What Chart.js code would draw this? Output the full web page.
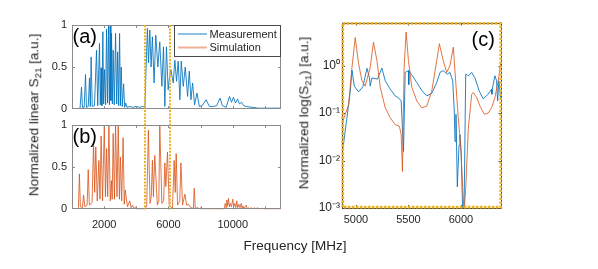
<!DOCTYPE html>
<html>
<head>
<meta charset="utf-8">
<script src="https://cdn.jsdelivr.net/npm/chart.js@4.4.1/dist/chart.umd.min.js"></script>
<style>
  body { margin: 0; background: #fff; }
  #wrap { position: relative; width: 598px; height: 269px; overflow: hidden; font-family: "Liberation Sans", Arial, sans-serif; color: #262626; }
  .layer { position: absolute; left: 0; top: 0; width: 598px; height: 269px; }
  .title { position: absolute; white-space: nowrap; font-size: 13.5px; line-height: 1; }
  .title sub { font-size: 0.72em; line-height: 0; vertical-align: -0.3em; }
  .rot { transform: translate(-50%, -50%) rotate(-90deg); }
  .hor { transform: translate(-50%, -50%); }
</style>
</head>
<body>
<div id="wrap">
  <div class="layer"><canvas id="chartA"></canvas></div>
  <div class="layer"><canvas id="chartB"></canvas></div>
  <div class="layer"><canvas id="chartC"></canvas></div>
  <div class="title rot" style="left:34px; top:115px;">Normalized linear S<sub>21</sub> [a.u.]</div>
  <div class="title rot" style="left:304px; top:113px;">Normalized log(S<sub>21</sub>) [a.u.]</div>
  <div class="title hor" style="left:295px; top:246px;">Frequency [MHz]</div>
</div>
<script>
// panel (a): measurement, linear
const measFreq = [500, 590, 650, 760, 840, 900, 1010, 1090, 1140, 1190, 1260, 1400, 1525, 1600, 1710, 1760, 1810, 1860, 1920, 1970,
	2025, 2090, 2150, 2210, 2275, 2325, 2375, 2420, 2460, 2510, 2560, 2630, 2710, 2780, 2840, 2900, 2960, 3010, 3060, 3130,
	3210, 3280, 3340, 3420, 3600, 3800, 4000, 4200, 4400, 4540, 4600, 4690, 4760, 4840, 4920, 5000, 5105, 5210, 5340, 5460,
	5590, 5690, 5775, 5875, 5980, 6050, 6150, 6295, 6400, 6500, 6605, 6710, 6795, 6920, 7045, 7190, 7295, 7400, 7500, 7625,
	7775, 7920, 8100, 8340, 8545, 8800, 9000, 9210, 9350, 9590, 9795, 9920, 10045, 10170, 10295, 10420, 10545, 10670, 10840, 11200,
	11600, 12000, 12500, 13000];
const measVal = [0.01, 0.26, 0.02, 0.02, 0.41, 0.02, 0.03, 0.37, 0.03, 0.62, 0.03, 0.04, 0.70, 0.04, 0.78, 0.05, 0.49, 0.04, 0.92, 0.06,
	0.47, 0.05, 0.95, 0.07, 1.0, 0.05, 1.0, 0.1, 0.9, 0.06, 0.7, 0.05, 0.9, 0.06, 0.68, 0.04, 0.9, 0.04, 0.5, 0.03,
	0.3, 0.02, 0.07, 0.02, 0.03, 0.02, 0.03, 0.02, 0.03, 0.02, 0.45, 0.96, 0.55, 0.94, 0.5, 0.86, 0.31, 0.88, 0.5, 0.8,
	0.27, 0.74, 0.03, 0.74, 0.23, 0.35, 0.47, 0.31, 0.58, 0.33, 0.57, 0.11, 0.57, 0.27, 0.5, 0.15, 0.45, 0.11, 0.31, 0.05,
	0.19, 0.03, 0.04, 0.11, 0.03, 0.03, 0.04, 0.13, 0.04, 0.02, 0.15, 0.08, 0.14, 0.07, 0.12, 0.06, 0.08, 0.04, 0.03, 0.02,
	0.01, 0.01, 0.01, 0.01];

// panel (b): simulation, linear
const simFreq = [300, 400, 460, 520, 650, 720, 800, 940, 1010, 1080, 1250, 1340, 1410, 1480, 1570, 1670, 1740, 1810, 1900, 2010,
	2080, 2150, 2220, 2295, 2380, 2450, 2500, 2560, 2640, 2710, 2800, 2875, 2950, 3010, 3090, 3180, 3250, 3310, 3450, 3590,
	3680, 3760, 3860, 3960, 4100, 4550, 4650, 4750, 4855, 4930, 5000, 5065, 5150, 5310, 5400, 5460, 5590, 5700, 5775, 5840,
	5940, 6045, 6250, 6355, 6420, 6480, 6565, 6700, 6775, 6875, 7025, 7125, 7250, 7400, 7550, 7605, 7670, 7840, 7900, 8025,
	8100, 9480, 9525, 9580, 9625, 9680, 9730, 9790, 9840, 9920, 10000, 10060, 10125, 10190, 10250, 10310, 10375, 10450, 10525, 10580,
	10625, 10700, 10840, 10900, 10980, 11050, 11150, 11250, 11355, 11450, 11560, 11650, 11875, 12000, 13000];
const simVal = [0, 0.02, 0.42, 0.03, 0.02, 0.17, 0.03, 0.05, 0.47, 0.05, 0.08, 0.8, 0.2, 0.74, 0.1, 0.58, 0.12, 0.87, 0.1, 1.0,
	0.15, 0.72, 0.15, 1.0, 0.1, 0.34, 0.12, 0.9, 0.12, 1.0, 0.15, 1.0, 0.12, 0.62, 0.1, 0.85, 0.06, 0.23, 0.03, 0.1,
	0.02, 0.05, 0.01, 0.03, 0, 0, 0.05, 0.94, 0.07, 0.15, 0.58, 0.15, 0.64, 0.05, 0.1, 1.0, 0.07, 0.1, 0.55, 0.27,
	0.68, 0.05, 0.01, 0.58, 0.2, 0.66, 0.05, 0.1, 0.55, 0.05, 0.18, 0.05, 0.06, 0.02, 0.01, 0.25, 0.01, 0.02, 0, 0.02,
	0, 0, 0.07, 0.02, 0.11, 0.04, 0.13, 0.03, 0.07, 0.03, 0.12, 0.03, 0.07, 0.02, 0.1, 0.02, 0.06, 0.02, 0.07, 0.01,
	0.04, 0.01, 0.05, 0, 0.02, 0, 0.02, 0, 0.02, 0, 0.02, 0, 0.01, 0, 0];

// panel (c): zoom, log scale
const zMeasFreq = [4876, 4914, 4946, 4962, 4984, 5025, 5066, 5105, 5129, 5136, 5152, 5205, 5247, 5279, 5326, 5374, 5405, 5431, 5453, 5469,
	5500, 5503, 5506, 5532, 5580, 5627, 5675, 5722, 5770, 5801, 5833, 5871, 5896, 5922, 5937, 5944, 5953, 5966, 5982, 5991,
	6004, 6017, 6030, 6046, 6071, 6103, 6134, 6175, 6213, 6260, 6293, 6296, 6299, 6324, 6340, 6350, 6362, 6378];
const zMeasVal = [0.018, 0.079, 0.29, 0.81, 0.37, 0.28, 0.36, 0.88, 0.55, 0.37, 0.55, 0.52, 0.89, 0.48, 0.32, 0.23, 0.21, 0.18, 0.0155, 0.72,
	0.78, 0.4, 0.78, 0.64, 0.44, 0.30, 0.23, 0.26, 0.44, 0.72, 0.78, 0.66, 0.72, 0.48, 0.11, 0.025, 0.094, 0.0028, 0.021, 0.035,
	0.013, 0.0008, 0.0008, 0.66, 0.61, 0.72, 0.55, 0.29, 0.2, 0.25, 0.32, 0.25, 0.32, 0.61, 0.48, 0.18, 0.48, 0.21];
const zSimFreq = [4876, 4930, 4962, 4993, 5025, 5057, 5088, 5136, 5167, 5200, 5231, 5279, 5326, 5374, 5414, 5431, 5443, 5459, 5478, 5500,
	5532, 5580, 5627, 5675, 5722, 5770, 5795, 5827, 5865, 5896, 5928, 5950, 5975, 5998, 6017, 6030, 6046, 6071, 6103, 6119,
	6151, 6182, 6224, 6260, 6293, 6324, 6356, 6378];
const zSimVal = [0.068, 0.15, 0.92, 3.9, 1.1, 0.48, 0.37, 0.92, 3.1, 1.28, 0.35, 0.13, 0.08, 0.057, 0.053, 0.035, 0.0059, 0.92, 5.1, 1.28,
	0.35, 0.18, 0.13, 0.14, 0.29, 1.28, 2.9, 1.39, 0.72, 1.0, 2.45, 0.48, 0.079, 0.021, 0.0026, 0.0008, 0.0026, 0.048, 0.25, 0.27,
	0.21, 0.14, 0.094, 0.1, 0.13, 0.21, 0.48, 1.1];

// axes
const linTicks = [2000, 4000, 6000, 8000, 10000, 12000];
const linLabels = [2000, 6000, 10000];
const linYTicks = [0, 0.5, 1];
const zoomBand = [4550, 6100];
const zXTicks = [5000, 5500, 6000];
const zYTicks = [0.001, 0.01, 0.1, 1];
const zYLabels = ['10⁻³', '10⁻²', '10⁻¹', '10⁰'];

const BLUE = 'rgba(0,114,189,0.85)';
const ORANGE = 'rgba(217,83,25,0.8)';
const GOLD = '#EDB120';
const TXT = '#262626';
const FONT = '"Liberation Sans", Arial, sans-serif';

function pts(xs, ys) {
	return xs.map((x, i) => ({x: x, y: ys[i]}));
}

function lineSet(label, xs, ys, color) {
	return {
		label: label,
		data: pts(xs, ys),
		borderColor: color,
		borderWidth: 1,
		pointRadius: 0,
		tension: 0,
		fill: false
	};
}

// frame, inside ticks, panel letter
function decoPlugin(cfg) {
	return {
		id: 'deco',
		afterDatasetsDraw(chart) {
			const ctx = chart.ctx;
			const a = chart.chartArea;
			const sx = chart.scales.x, sy = chart.scales.y;
			ctx.save();
			ctx.strokeStyle = cfg.frame;
			ctx.lineWidth = 1;
			ctx.beginPath();
			for (const v of cfg.xt) {
				const px = Math.round(sx.getPixelForValue(v)) + 0.5;
				ctx.moveTo(px, a.bottom); ctx.lineTo(px, a.bottom - 3);
				ctx.moveTo(px, a.top); ctx.lineTo(px, a.top + 3);
			}
			for (const v of cfg.yt) {
				const py = Math.round(sy.getPixelForValue(v)) + 0.5;
				ctx.moveTo(a.left, py); ctx.lineTo(a.left + 3, py);
				ctx.moveTo(a.right, py); ctx.lineTo(a.right - 3, py);
			}
			ctx.stroke();
			ctx.strokeRect(Math.round(a.left) + 0.5, Math.round(a.top) + 0.5, Math.round(a.width) - 1, Math.round(a.height) - 1);
			if (cfg.dotted) {
				ctx.strokeStyle = GOLD;
				ctx.lineWidth = 2.7;
				ctx.setLineDash([2.7, 1.3]);
				ctx.strokeRect(a.left + 0.8, a.top + 0.8, a.width - 1.6, a.height - 1.6);
				ctx.setLineDash([]);
			}
			if (cfg.band) {
				ctx.strokeStyle = GOLD;
				ctx.lineWidth = 2;
				ctx.setLineDash([2, 1.4]);
				ctx.beginPath();
				for (const v of cfg.band) {
					const px = Math.round(sx.getPixelForValue(v));
					ctx.moveTo(px, 25); ctx.lineTo(px, a.bottom);
				}
				ctx.stroke();
				ctx.setLineDash([]);
			}
			ctx.fillStyle = '#000';
			ctx.font = '20px ' + FONT;
			ctx.textBaseline = 'alphabetic';
			ctx.textAlign = 'left';
			ctx.fillText(cfg.letter, cfg.lx, cfg.ly);
			if (cfg.legend) {
				ctx.fillStyle = '#fff';
				ctx.fillRect(174, 25, 107, 32);
				ctx.strokeStyle = '#4a4a4a';
				ctx.lineWidth = 1;
				ctx.strokeRect(174.5, 25.5, 106, 31);
				ctx.lineWidth = 2;
				ctx.strokeStyle = 'rgba(0,114,189,0.45)';
				ctx.beginPath(); ctx.moveTo(178, 34); ctx.lineTo(207, 34); ctx.stroke();
				ctx.strokeStyle = 'rgba(217,83,25,0.45)';
				ctx.beginPath(); ctx.moveTo(178, 47.5); ctx.lineTo(207, 47.5); ctx.stroke();
				ctx.fillStyle = TXT;
				ctx.font = '11px ' + FONT;
				ctx.textBaseline = 'middle';
				ctx.fillText('Measurement', 209.5, 34.5);
				ctx.fillText('Simulation', 209.5, 48);
			}
			ctx.restore();
		}
	};
}

function tickFont(sz) {
	return {family: FONT, size: sz || 11};
}

function makeChart(id, datasets, o) {
	return new Chart(document.getElementById(id), {
		type: 'line',
		data: {datasets: datasets},
		options: {
			responsive: true,
			maintainAspectRatio: false,
			animation: false,
			events: [],
			layout: {padding: o.pad},
			plugins: {legend: {display: false}, tooltip: {enabled: false}},
			scales: {
				x: {
					type: 'linear',
					min: o.xmin,
					max: o.xmax,
					display: o.xShow,
					grid: {display: false, drawTicks: false},
					border: {display: false},
					afterFit: s => { s.height = o.xShow ? 30 : 0; },
					afterBuildTicks: s => { s.ticks = o.xt.map(v => ({value: v})); },
					ticks: {
						autoSkip: false,
						maxRotation: 0,
						padding: o.xPad,
						color: TXT,
						font: tickFont(),
						callback: o.xLab
					}
				},
				y: {
					type: o.yType,
					min: o.ymin,
					max: o.ymax,
					grid: {display: false, drawTicks: false},
					border: {display: false},
					afterFit: s => { s.width = o.yWidth; },
					afterBuildTicks: s => { s.ticks = o.yt.map(v => ({value: v})); },
					ticks: {
						padding: o.yPad,
						color: TXT,
						font: tickFont(o.yFont),
						callback: o.yLab
					}
				}
			}
		},
		plugins: [decoPlugin(o.deco)]
	});
}

const linYLab = v => String(v);

makeChart('chartA', [lineSet('Measurement', measFreq, measVal, BLUE)], {
	pad: {left: 0, top: 25, right: 317, bottom: 160},
	xmin: 0, xmax: 13000, xShow: false, xt: linTicks, xPad: 9, xLab: () => '',
	yType: 'linear', ymin: 0, ymax: 1, yt: linYTicks, yWidth: 72, yPad: 5, yLab: linYLab,
	deco: {frame: '#8a8a8a', xt: linTicks, yt: [0.5], letter: '(a)', lx: 72.5, ly: 42.5, legend: true}
});

makeChart('chartB', [lineSet('Simulation', simFreq, simVal, ORANGE)], {
	pad: {left: 0, top: 125, right: 317, bottom: 29.7},
	xmin: 0, xmax: 13000, xShow: true, xt: linTicks, xPad: 9,
	xLab: v => linLabels.includes(v) ? String(v) : '',
	yType: 'linear', ymin: 0, ymax: 1, yt: linYTicks, yWidth: 72, yPad: 5, yLab: linYLab,
	deco: {frame: '#8a8a8a', xt: linTicks, yt: [0.5], letter: '(b)', lx: 72.5, ly: 142.5, band: zoomBand}
});

makeChart('chartC', [
	lineSet('Simulation', zSimFreq, zSimVal, ORANGE),
	lineSet('Measurement', zMeasFreq, zMeasVal, BLUE)
], {
	pad: {left: 290, top: 22.5, right: 96.5, bottom: 31},
	xmin: 4867, xmax: 6387, xShow: true, xt: zXTicks, xPad: 5, xLab: v => String(v),
	yType: 'logarithmic', ymin: 0.001, ymax: 8.1, yt: zYTicks, yWidth: 52, yPad: 2, yFont: 12,
	yLab: v => zYLabels[zYTicks.indexOf(v)] || '',
	deco: {frame: '#404040', xt: zXTicks, yt: zYTicks, letter: '(c)', lx: 471.5, ly: 45.5, dotted: true}
});
</script>
</body>
</html>
